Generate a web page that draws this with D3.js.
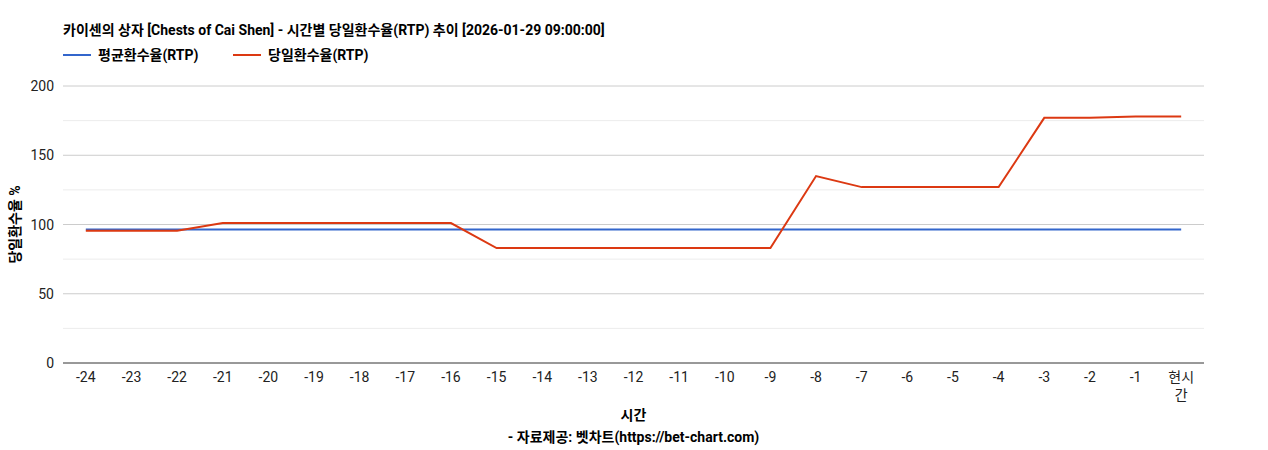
<!DOCTYPE html>
<html><head><meta charset="utf-8">
<script src="https://cdn.jsdelivr.net/npm/d3@7"></script>
<style>body{margin:0;background:#fff;font-family:Roboto,"Noto Sans CJK KR",sans-serif}</style>
</head><body><svg id="chart" width="1268" height="450"></svg>
<script>
const categories = ["-24","-23","-22","-21","-20","-19","-18","-17","-16","-15","-14","-13","-12","-11","-10","-9","-8","-7","-6","-5","-4","-3","-2","-1","현시간"];
const avgRtp = [96.3,96.3,96.3,96.3,96.3,96.3,96.3,96.3,96.3,96.3,96.3,96.3,96.3,96.3,96.3,96.3,96.3,96.3,96.3,96.3,96.3,96.3,96.3,96.3,96.3];
const dailyRtp = [95.5,95.5,95.5,101,101,101,101,101,101,83,83,83,83,83,83,83,135,127,127,127,127,177,177,178,178];
const yTicks = [0,50,100,150,200];
const yMinor = [25,75,125,175];

const svg = d3.select("#chart");
const m = {l:63, r:1204, t:86, b:363};
const font = 'Roboto,"Noto Sans CJK KR",sans-serif';

const x = d3.scaleBand().domain(categories).range([m.l, m.r]);
const y = d3.scaleLinear().domain([0,200]).range([m.b, m.t]);
const cx = c => x(c) + x.bandwidth()/2;

svg.selectAll(".minor").data(yMinor).enter().append("line")
  .attr("x1", m.l).attr("x2", m.r).attr("y1", d => y(d)).attr("y2", d => y(d))
  .attr("stroke", "#ececec");
svg.selectAll(".major").data(yTicks.filter(d => d > 0)).enter().append("line")
  .attr("x1", m.l).attr("x2", m.r).attr("y1", d => y(d)).attr("y2", d => y(d))
  .attr("stroke", "#cccccc");
svg.append("line").attr("x1", m.l).attr("x2", m.r).attr("y1", y(0)).attr("y2", y(0)).attr("stroke", "#333");

svg.selectAll(".yl").data(yTicks).enter().append("text")
  .attr("x", m.l - 9).attr("y", d => y(d) + 5).attr("text-anchor", "end")
  .attr("font-size", 14).attr("font-family", font).attr("fill", "#222").text(d => d);

categories.forEach(c => {
  const t = svg.append("text").attr("text-anchor", "middle").attr("font-size", 14)
    .attr("font-family", font).attr("fill", "#222");
  if (c === "현시간") {
    t.append("tspan").attr("x", cx(c)).attr("y", 382).text("현시");
    t.append("tspan").attr("x", cx(c)).attr("y", 400).text("간");
  } else t.attr("x", cx(c)).attr("y", 382).text(c);
});

const line = d3.line().x((d,i) => cx(categories[i])).y(d => y(d));
svg.append("path").datum(avgRtp).attr("d", line).attr("fill", "none").attr("stroke", "#3366cc").attr("stroke-width", 2);
svg.append("path").datum(dailyRtp).attr("d", line).attr("fill", "none").attr("stroke", "#dc3912").attr("stroke-width", 2);

svg.append("text").attr("x", 63).attr("y", 35).attr("font-size", 14).attr("font-weight", "bold")
  .attr("font-family", font).text("카이센의 상자 [Chests of Cai Shen] - 시간별 당일환수율(RTP) 추이 [2026-01-29 09:00:00]");

const legend = [["평균환수율(RTP)", "#3366cc", 63], ["당일환수율(RTP)", "#dc3912", 233]];
legend.forEach(([t, c, lx]) => {
  svg.append("line").attr("x1", lx).attr("x2", lx + 28).attr("y1", 55).attr("y2", 55).attr("stroke", c).attr("stroke-width", 2);
  svg.append("text").attr("x", lx + 35).attr("y", 60).attr("font-size", 14).attr("font-weight", "bold")
    .attr("font-family", font).text(t);
});

svg.append("text").attr("transform", `translate(20,${(m.t+m.b)/2}) rotate(-90)`).attr("text-anchor", "middle")
  .attr("font-size", 14).attr("font-weight", "bold").attr("font-family", font).text("당일환수율 %");
svg.append("text").attr("x", (m.l+m.r)/2).attr("y", 420).attr("text-anchor", "middle")
  .attr("font-size", 14).attr("font-weight", "bold").attr("font-family", font).text("시간");
svg.append("text").attr("x", (m.l+m.r)/2).attr("y", 442).attr("text-anchor", "middle")
  .attr("font-size", 14).attr("font-weight", "bold").attr("font-family", font).text("- 자료제공: 벳차트(https://bet-chart.com)");
</script></body></html>
